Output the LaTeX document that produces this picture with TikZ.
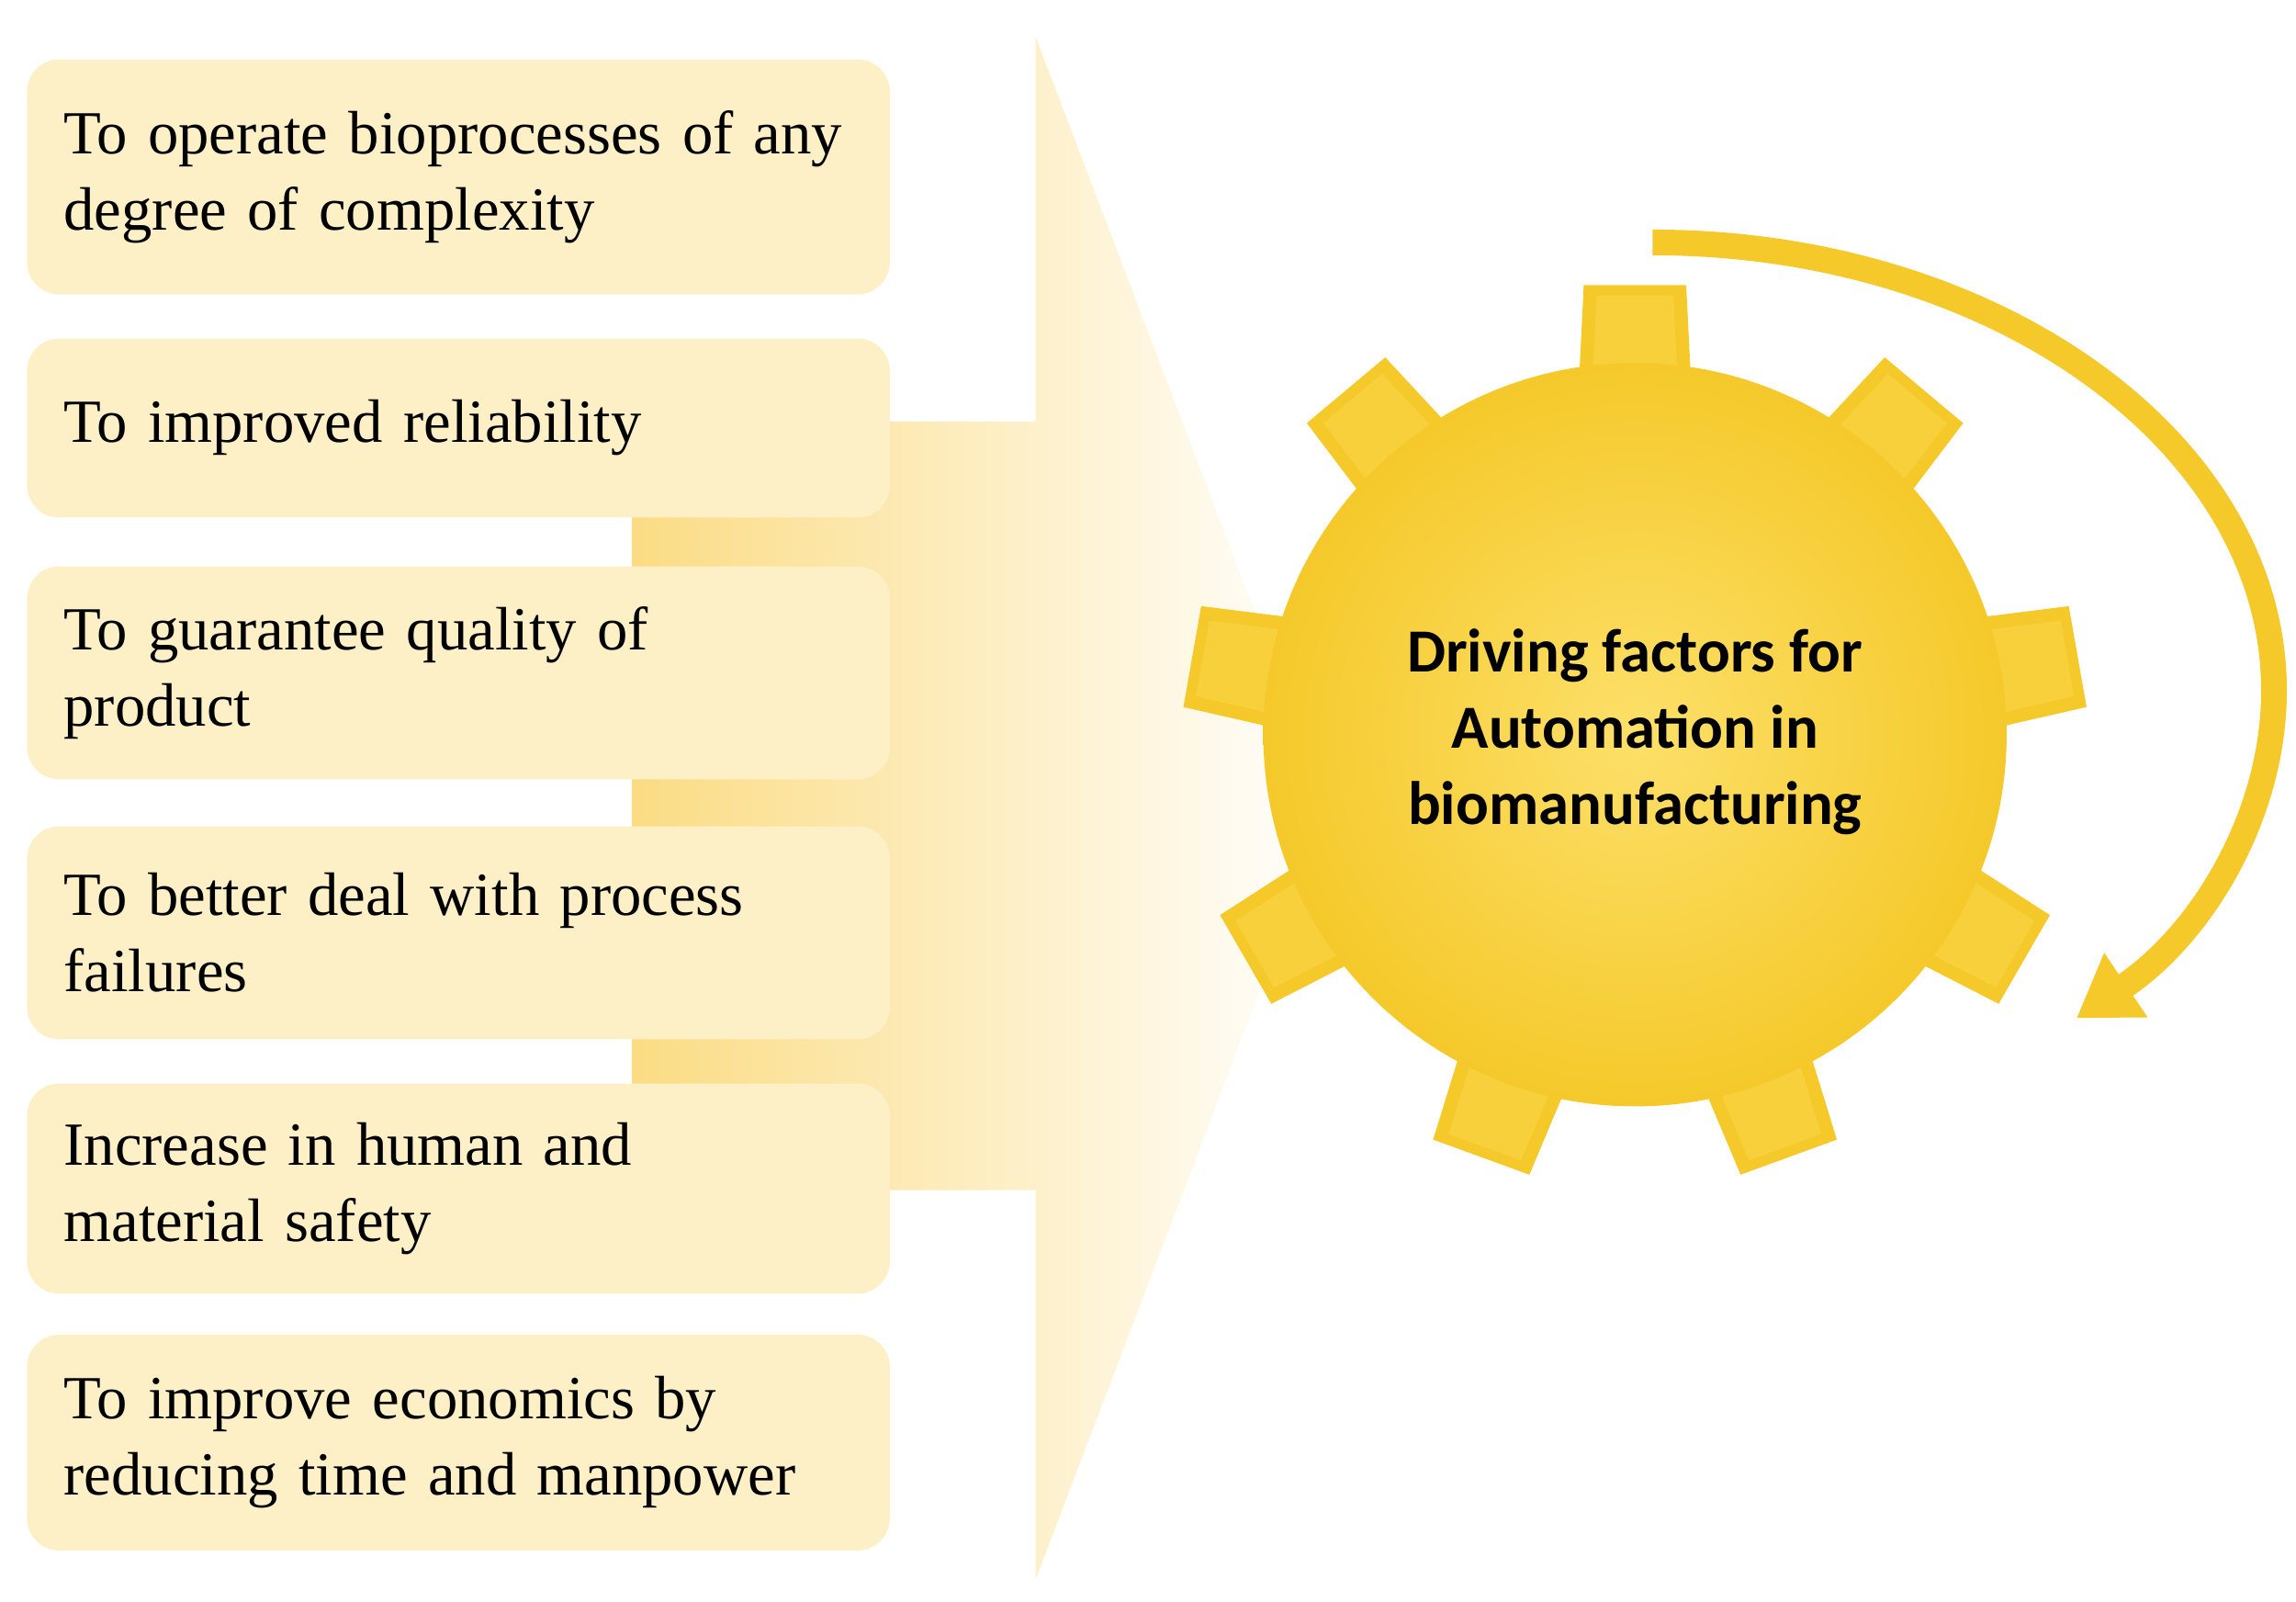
\documentclass[tikz,border=0pt]{standalone}
\usepackage{fontspec}
\setmainfont{Liberation Serif}
\newfontfamily\gearfont{Carlito}
\usetikzlibrary{arrows.meta}
\definecolor{boxfill}{HTML}{FDF0C6}
\definecolor{arr}{HTML}{FBDC84}
\definecolor{gearA}{HTML}{FDE06A}
\definecolor{gearB}{HTML}{F5C92A}
\definecolor{toothc}{HTML}{F8D03C}
\newcommand\myboxfont{\fontsize{19}{23.6}\selectfont\hyphenpenalty=10000\relax}
\tikzset{
 box/.style={fill=boxfill,rounded corners=0.35cm,minimum width=9.15cm,text width=8.6cm,align=left,inner xsep=0.4cm,font=\myboxfont,anchor=north west}
}
\begin{document}
\begin{tikzpicture}[x=0.016cm,y=-0.016cm]
\useasboundingbox (0,0) rectangle (1563,1090);
% big arrow
\path[left color=arr,right color=white,shading angle=90] (430,287) -- (705,287) -- (705,25) -- (905,550) -- (705,1075) -- (705,810) -- (430,810) -- cycle;
% boxes
\node[box,minimum height=2.56cm] (b1) at (18,40) {To operate bioprocesses of any degree of complexity};
\node[box,minimum height=1.95cm] (b2) at (18,230) {To improved reliability};
\node[box,minimum height=2.32cm] (b3) at (18,385) {To guarantee quality of product};
\node[box,minimum height=2.32cm] (b4) at (18,562) {To better deal with process failures};
\node[box,minimum height=2.29cm] (b5) at (18,737) {Increase in human and material safety};
\node[box,minimum height=2.35cm] (b6) at (18,908) {To improve economics by reducing time and manpower};
% gear
\foreach \a in {90,50,10,-30,-70,-110,-150,170,130}{
 \fill[gearB] ({1113+225*cos(\a+10)},{500-225*sin(\a+10)}) -- ({1113+308*cos(\a+6.5)},{500-308*sin(\a+6.5)}) -- ({1113+308*cos(\a-6.5)},{500-308*sin(\a-6.5)}) -- ({1113+225*cos(\a-10)},{500-225*sin(\a-10)}) -- cycle;
 \fill[toothc] ({1113+240*cos(\a+7)},{500-240*sin(\a+7)}) -- ({1113+300*cos(\a+5)},{500-300*sin(\a+5)}) -- ({1113+300*cos(\a-5)},{500-300*sin(\a-5)}) -- ({1113+240*cos(\a-7)},{500-240*sin(\a-7)}) -- cycle;
}
\shade[inner color=gearA,outer color=gearB] (1113,500) circle[radius=253];
\node[font=\gearfont\bfseries\fontsize{19}{23.6}\selectfont,align=center] (g) at (1113,498) {Driving factors for\\Automation in\\biomanufacturing};
% circular arrow
\coordinate (cs) at (1125,165);
\draw[gearB,line width=0.28cm,-{Triangle[width=0.8cm,length=0.65cm]}] (cs) arc[start angle=-90,end angle=47,x radius=423,y radius=305];
\end{tikzpicture}
\end{document}
